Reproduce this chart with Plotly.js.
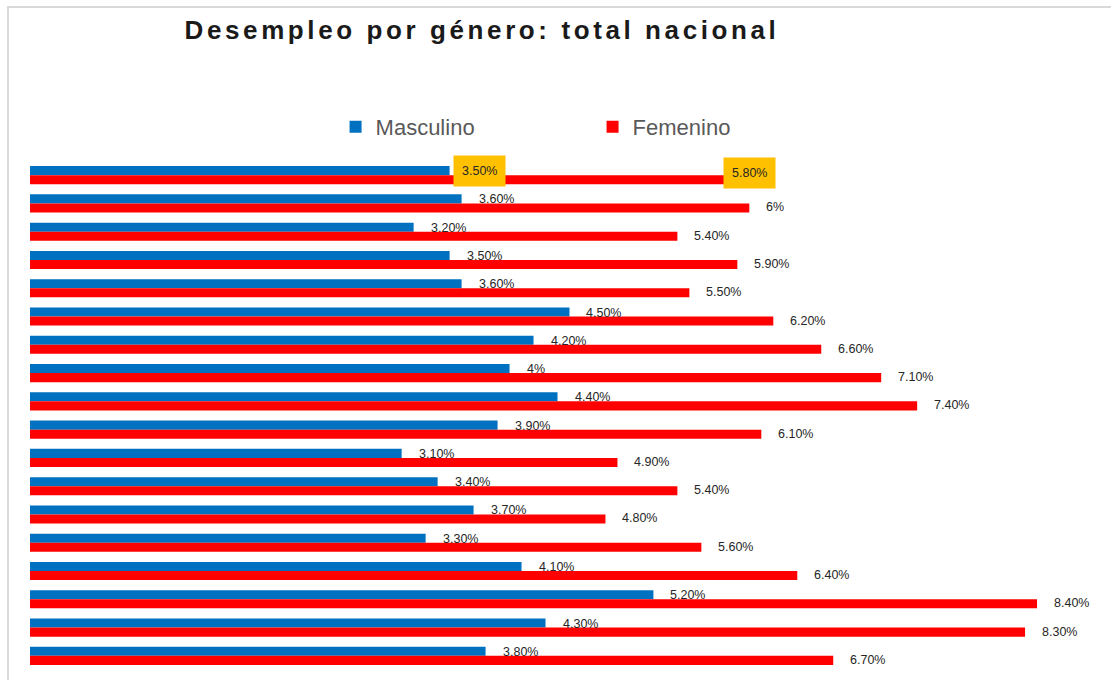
<!DOCTYPE html>
<html>
<head>
<meta charset="utf-8">
<script src="https://cdn.plot.ly/plotly-3.0.1.min.js"></script>
<style>
  html, body { margin: 0; padding: 0; background: #ffffff; }
  #wrap { position: relative; width: 1111px; height: 680px; overflow: hidden; }
  #chart { position: absolute; left: 0; top: 0; width: 1111px; height: 680px; }
  #frame { position: absolute; left: 7px; top: 6px; right: -10px; bottom: -10px;
           border-left: 2px solid #d9d9d9; border-top: 2px solid #d9d9d9; pointer-events: none; }
  .gtitle { letter-spacing: 3.6px; }
</style>
</head>
<body>
<div id="wrap">
  <div id="chart"></div>
  <div id="frame"></div>
</div>
<script>
// ---- data ----
const categories = ['P1','P2','P3','P4','P5','P6','P7','P8','P9','P10','P11','P12','P13','P14','P15','P16','P17','P18'];
const masculino = [3.5, 3.6, 3.2, 3.5, 3.6, 4.5, 4.2, 4.0, 4.4, 3.9, 3.1, 3.4, 3.7, 3.3, 4.1, 5.2, 4.3, 3.8];
const femenino  = [5.8, 6.0, 5.4, 5.9, 5.5, 6.2, 6.6, 7.1, 7.4, 6.1, 4.9, 5.4, 4.8, 5.6, 6.4, 8.4, 8.3, 6.7];
const seriesNames = ['Masculino', 'Femenino'];
const highlightRow = 0;

function fmt(v) { return Number.isInteger(v) ? v + '%' : v.toFixed(2) + '%'; }

const BLUE = '#0070C0', RED = '#FF0000', HL = '#FFC000';
const labelFont = { family: 'Liberation Sans, Arial, sans-serif', size: 12.5, color: '#262626' };

const traces = [
  { type: 'bar', orientation: 'h', name: seriesNames[0], x: masculino, y: categories,
    marker: { color: BLUE }, hoverinfo: 'skip' },
  { type: 'bar', orientation: 'h', name: seriesNames[1], x: femenino, y: categories,
    marker: { color: RED }, hoverinfo: 'skip' }
];

const annotations = [];
categories.forEach((c, i) => {
  const hl = (i === highlightRow);
  annotations.push({
    x: masculino[i], y: c, xref: 'x', yref: 'y', text: fmt(masculino[i]),
    showarrow: false, xanchor: 'left', yanchor: 'middle',
    xshift: hl ? 3 : 15, yshift: 4,
    font: labelFont,
    bgcolor: hl ? HL : 'rgba(0,0,0,0)', borderpad: hl ? 8 : 1
  });
  annotations.push({
    x: femenino[i], y: c, xref: 'x', yref: 'y', text: fmt(femenino[i]),
    showarrow: false, xanchor: 'left', yanchor: 'middle',
    xshift: hl ? -2 : 15, yshift: hl ? 2 : -4,
    font: labelFont,
    bgcolor: hl ? HL : 'rgba(0,0,0,0)', borderpad: hl ? 8 : 1
  });
});

const layout = {
  width: 1111, height: 680,
  margin: { l: 30, r: 20, t: 161, b: 10 },
  paper_bgcolor: 'rgba(0,0,0,0)', plot_bgcolor: 'rgba(0,0,0,0)',
  title: {
    text: 'Desempleo por género: total nacional',
    font: { family: 'Liberation Sans Narrow, Arial Narrow, Liberation Sans, sans-serif', size: 26, color: '#1a1a1a', weight: 'bold' },
    xref: 'container', yref: 'container', x: 482 / 1111, xanchor: 'center', y: 1 - 30 / 680, yanchor: 'middle'
  },
  barmode: 'group', bargap: 0.36, bargroupgap: 0,
  xaxis: { range: [0, 8.85], showgrid: false, zeroline: false, showticklabels: false, showline: false, ticks: '' },
  yaxis: { type: 'category', range: [17.5, -0.5], showgrid: false, zeroline: false, showticklabels: false, showline: false, ticks: '' },
  showlegend: true,
  legend: {
    orientation: 'h', x: 0.288, xanchor: 'left', y: 1.067, yanchor: 'middle',
    font: { family: 'Liberation Sans, Arial, sans-serif', size: 22, color: '#595959' },
    entrywidth: 212, entrywidthmode: 'pixels', bgcolor: 'rgba(0,0,0,0)', traceorder: 'normal'
  },
  annotations: annotations
};

Plotly.newPlot('chart', traces, layout, { staticPlot: true, displayModeBar: false });
</script>
</body>
</html>
